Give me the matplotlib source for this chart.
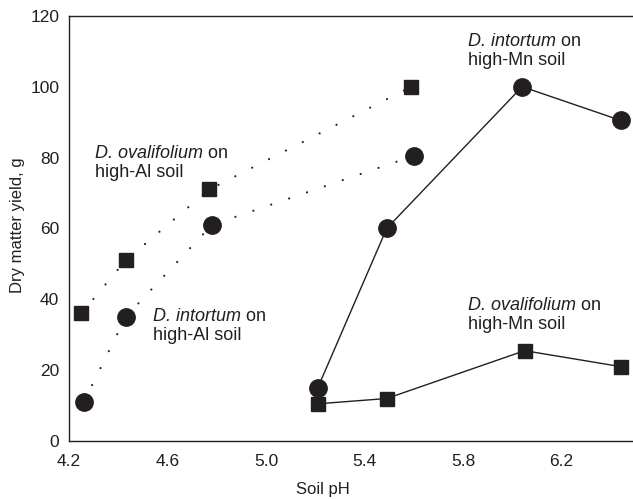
import matplotlib
matplotlib.use('Agg')
import matplotlib.pyplot as plt

plt.rcParams['font.family'] = ['Liberation Sans', 'DejaVu Sans']

# --- data ---
ph_int_mn = [5.21, 5.49, 6.04, 6.44]
yield_int_mn = [15, 60, 100, 90.5]
ph_ova_mn = [5.21, 5.49, 6.05, 6.44]
yield_ova_mn = [10.5, 12, 25.5, 21]
ph_ova_al = [4.25, 4.43, 4.77, 5.59]
yield_ova_al = [36, 51, 71, 100]
ph_int_al = [4.26, 4.43, 4.78, 5.60]
yield_int_al = [11, 35, 61, 80.5]

x_ticks = [4.2, 4.6, 5.0, 5.4, 5.8, 6.2]
y_ticks = [0, 20, 40, 60, 80, 100, 120]

# label: (x, y of top, species, soil)
labels = [
    (4.305, 83.6, 'D. ovalifolium', 'high-Al soil'),
    (4.541, 37.5, 'D. intortum', 'high-Al soil'),
    (5.819, 115.2, 'D. intortum', 'high-Mn soil'),
    (5.819, 40.7, 'D. ovalifolium', 'high-Mn soil'),
]

dark = '#231f20'

fig = plt.figure(figsize=(6.33, 4.99), dpi=100)
ax = fig.add_axes([0.109, 0.1162, 0.891, 0.852])

# sparse round dots for the high-Al series
dots = (0, (0.01, 8.5))
ax.plot(ph_ova_al, yield_ova_al, linestyle=dots, lw=1.6, color=dark,
        dash_capstyle='round',
        marker='s', markersize=10.5, markerfacecolor=dark, markeredgecolor=dark)
ax.plot(ph_int_al, yield_int_al, linestyle=dots, lw=1.6, color=dark,
        dash_capstyle='round',
        marker='o', markersize=12.5, markerfacecolor=dark, markeredgecolor=dark)
ax.plot(ph_int_mn, yield_int_mn, '-', lw=1.0, color=dark,
        marker='o', markersize=12.5, markerfacecolor=dark, markeredgecolor=dark)
ax.plot(ph_ova_mn, yield_ova_mn, '-', lw=1.0, color=dark,
        marker='s', markersize=10.5, markerfacecolor=dark, markeredgecolor=dark)

fs = 13
for x, y, species, soil in labels:
    t = ax.text(x, y, species, fontsize=fs, style='italic', va='top', color=dark)
    ax.annotate(' on', xy=(1, 0), xycoords=t, va='bottom', ha='left',
                fontsize=fs, color=dark)
    ax.annotate(soil, xy=(0, 0), xycoords=t, xytext=(0, -1.5),
                textcoords='offset points', va='top', ha='left',
                fontsize=fs, color=dark)

ax.set_xlim(4.2, 6.49)
ax.set_ylim(0, 120)
ax.set_xticks(x_ticks)
ax.set_xticklabels(['%.1f' % t for t in x_ticks])
ax.set_yticks(y_ticks)
ax.tick_params(axis='both', length=0, labelsize=12.5, labelcolor=dark)
ax.tick_params(axis='x', pad=9)
ax.tick_params(axis='y', pad=7)

ax.spines['right'].set_visible(False)
for s in ['left', 'bottom', 'top']:
    ax.spines[s].set_color(dark)
    ax.spines[s].set_linewidth(1.0)

ax.set_xlabel('Soil pH', fontsize=12, color=dark)
ax.set_ylabel('Dry matter yield, g', fontsize=12, color=dark)
ax.xaxis.set_label_coords(0.451, -0.096)
ax.yaxis.set_label_coords(-0.078, 0.508)

fig.savefig('out.png', dpi=100)
